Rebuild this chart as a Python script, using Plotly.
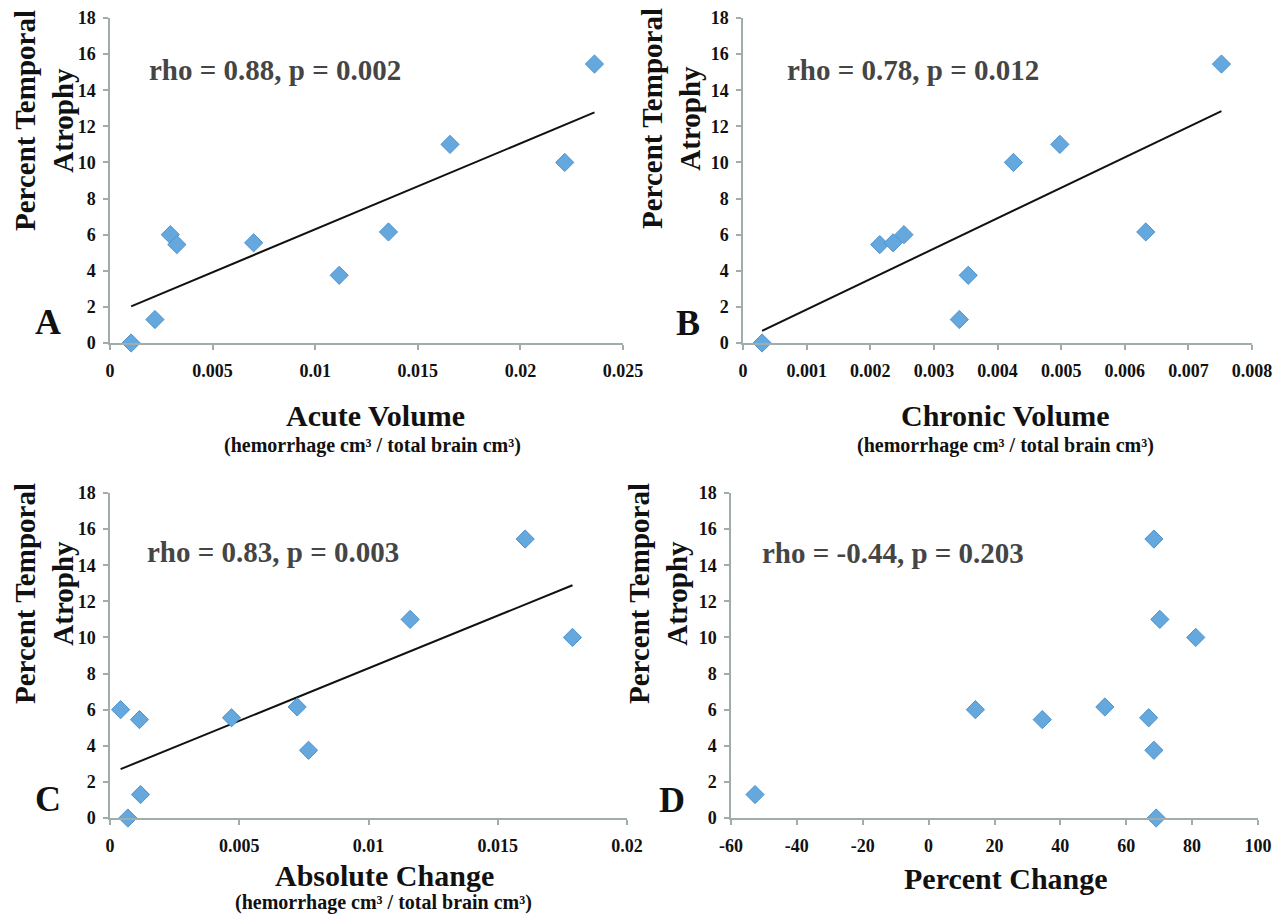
import numpy as np
import plotly.graph_objects as go

# ---------------- data ----------------
atrophy = [0.0, 1.3, 6.0, 5.45, 5.55, 3.75, 6.15, 11.0, 10.0, 15.45]

acute_volume = [0.00103, 0.00219, 0.00294, 0.00326, 0.00700, 0.01117, 0.01357, 0.01657, 0.02216, 0.02361]
chronic_volume = [0.00030, 0.00340, 0.00253, 0.00215, 0.00236, 0.00354, 0.00633, 0.00498, 0.00425, 0.00752]
absolute_change = [0.00069, 0.00118, 0.00041, 0.00114, 0.00470, 0.00768, 0.00724, 0.01161, 0.01789, 0.01606]
percent_change = [69.1, -52.7, 14.2, 34.5, 66.8, 68.4, 53.5, 70.2, 81.1, 68.4]

y_tickvals = [0, 2, 4, 6, 8, 10, 12, 14, 16, 18]
y_ticktext = ["0", "2", "4", "6", "8", "10", "12", "14", "16", "18"]

a_tickvals = [0, 0.005, 0.01, 0.015, 0.02, 0.025]
a_ticktext = ["0", "0.005", "0.01", "0.015", "0.02", "0.025"]
b_tickvals = [0, 0.001, 0.002, 0.003, 0.004, 0.005, 0.006, 0.007, 0.008]
b_ticktext = ["0", "0.001", "0.002", "0.003", "0.004", "0.005", "0.006", "0.007", "0.008"]
c_tickvals = [0, 0.005, 0.01, 0.015, 0.02]
c_ticktext = ["0", "0.005", "0.01", "0.015", "0.02"]
d_tickvals = [-60, -40, -20, 0, 20, 40, 60, 80, 100]
d_ticktext = ["-60", "-40", "-20", "0", "20", "40", "60", "80", "100"]

stats_text = ["rho = 0.88, p = 0.002", "rho = 0.78, p = 0.012",
              "rho = 0.83, p = 0.003", "rho = -0.44, p = 0.203"]
panel_letters = ["A", "B", "C", "D"]
x_titles = ["Acute Volume", "Chronic Volume", "Absolute Change", "Percent Change"]
x_subtitle = "(hemorrhage cm³ / total brain cm³)"
y_title = "Percent Temporal<br>Atrophy"

# ---------------- layout geometry ----------------
# the page body has an 8px default margin; size the figure to fit the window
OFF = 8
W, H = 1287 - OFF, 916 - OFF
FONT = "Liberation Serif"
AXIS_COLOR = "#9fadad"
MARKER_COLOR = "#64a8de"
MARKER_LINE = "#4f93cd"


def px(x):
    return (x - OFF) / W


def py(y):
    return 1 - (y - OFF) / H


# plot-area pixel boxes in window coordinates (left, right, top, bottom)
boxes = [
    (110, 623, 18, 343),
    (743, 1252, 18, 343),
    (110, 627, 493, 818),
    (731, 1258, 493, 818),
]
x_ranges = [[0, 0.025], [0, 0.008], [0, 0.02], [-60, 100]]
x_data = [acute_volume, chronic_volume, absolute_change, percent_change]
x_ticks = [(a_tickvals, a_ticktext), (b_tickvals, b_ticktext),
           (c_tickvals, c_ticktext), (d_tickvals, d_ticktext)]
has_trend = [True, True, True, False]

fig = go.Figure()
layout = dict(
    width=W, height=H,
    margin=dict(l=0, r=0, t=0, b=0, autoexpand=False),
    paper_bgcolor="white", plot_bgcolor="white",
    showlegend=False,
    font=dict(family=FONT, color="#111111"),
)

annotations = []

for i in range(4):
    xa = "x" if i == 0 else f"x{i+1}"
    ya = "y" if i == 0 else f"y{i+1}"
    xkey = "xaxis" if i == 0 else f"xaxis{i+1}"
    ykey = "yaxis" if i == 0 else f"yaxis{i+1}"
    l, r, t, b = boxes[i]

    if has_trend[i]:
        slope, intercept = np.polyfit(x_data[i], atrophy, 1)
        xs = [min(x_data[i]), max(x_data[i])]
        ys = [slope * v + intercept for v in xs]
        fig.add_trace(go.Scatter(x=xs, y=ys, mode="lines", xaxis=xa, yaxis=ya,
                                 line=dict(color="#111111", width=2),
                                 hoverinfo="skip", cliponaxis=False))

    fig.add_trace(go.Scatter(
        x=x_data[i], y=atrophy, mode="markers", xaxis=xa, yaxis=ya,
        cliponaxis=False,
        marker=dict(symbol="diamond", size=14, color=MARKER_COLOR,
                    line=dict(color=MARKER_LINE, width=1)),
    ))

    tv, tt = x_ticks[i]
    layout[xkey] = dict(
        domain=[px(l), px(r)], range=x_ranges[i], anchor=ya, automargin=False,
        showline=True, linecolor=AXIS_COLOR, linewidth=1.5,
        ticks="outside", ticklen=5, tickwidth=1.5, tickcolor=AXIS_COLOR,
        showgrid=False, zeroline=False,
        tickvals=tv, ticktext=tt, ticklabelstandoff=6,
        tickfont=dict(family=FONT, size=18, color="#111111", weight="bold"),
    )
    layout[ykey] = dict(
        domain=[py(b), py(t)], range=[0, 18], anchor=xa, automargin=False,
        showline=True, linecolor=AXIS_COLOR, linewidth=1.5,
        ticks="outside", ticklen=5, tickwidth=1.5, tickcolor=AXIS_COLOR,
        showgrid=False, zeroline=False,
        tickvals=y_tickvals, ticktext=y_ticktext, ticklabelstandoff=4,
        tickfont=dict(family=FONT, size=18, color="#111111", weight="bold"),
    )

# statistics text
stats_pos = [(147, 70), (785, 70), (145, 552), (760, 553)]
for txt, (x, y) in zip(stats_text, stats_pos):
    annotations.append(dict(text=txt, x=px(x), y=py(y), xref="paper", yref="paper",
                            xanchor="left", yanchor="middle", showarrow=False,
                            font=dict(family=FONT, size=29, color="#454545", weight="bold")))

# panel letters
letter_pos = [(48, 322), (688, 323), (48, 799), (672, 800)]
for txt, (x, y) in zip(panel_letters, letter_pos):
    annotations.append(dict(text=txt, x=px(x), y=py(y), xref="paper", yref="paper",
                            xanchor="center", yanchor="middle", showarrow=False,
                            font=dict(family=FONT, size=36, color="#111111", weight="bold")))

# y-axis titles (rotated, two lines)
ytitle_pos = [(44, 121), (671, 119), (44, 594), (658, 594)]
for (x, y) in ytitle_pos:
    annotations.append(dict(text=y_title, x=px(x), y=py(y), xref="paper", yref="paper",
                            xanchor="center", yanchor="middle", textangle=-90,
                            showarrow=False, align="center",
                            font=dict(family=FONT, size=29, color="#111111", weight="bold")))

# x-axis titles
xtitle_pos = [(375, 416), (1005, 416), (384, 875), (1006, 878)]
for txt, (x, y) in zip(x_titles, xtitle_pos):
    annotations.append(dict(text=txt, x=px(x), y=py(y), xref="paper", yref="paper",
                            xanchor="center", yanchor="middle", showarrow=False,
                            font=dict(family=FONT, size=30, color="#111111", weight="bold")))

sub_pos = [(372, 445), (1005, 445), (383, 902)]
for (x, y) in sub_pos:
    annotations.append(dict(text=x_subtitle, x=px(x), y=py(y), xref="paper", yref="paper",
                            xanchor="center", yanchor="middle", showarrow=False,
                            font=dict(family=FONT, size=20, color="#111111", weight="bold")))

layout["annotations"] = annotations
fig.update_layout(**layout)
fig.write_html("out.html")
